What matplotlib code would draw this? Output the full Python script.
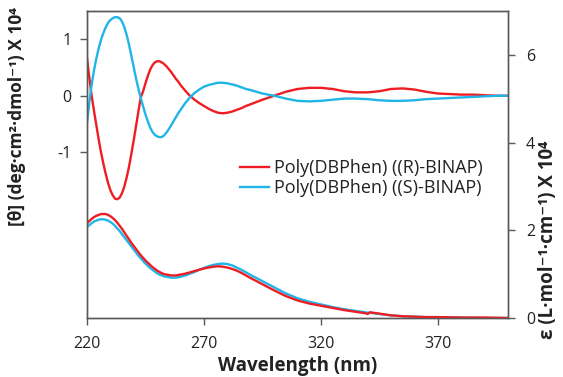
import matplotlib
matplotlib.use("Agg")
import matplotlib.pyplot as plt

# CD spectra (left axis, x 10^4)
wl_cd = list(range(220, 261)) + list(range(262, 291, 2)) + list(range(295, 401, 5))
cd_r = [0.67, 0.32, 0.0, -0.27, -0.52, -0.77, -1.0, -1.2, -1.38, -1.54, -1.67, -1.76,
        -1.82, -1.83, -1.8, -1.72, -1.6, -1.44, -1.25, -1.02, -0.78, -0.53, -0.27, -0.03,
        0.08, 0.22, 0.35, 0.46, 0.54, 0.59, 0.61, 0.61, 0.59, 0.56, 0.52, 0.47, 0.42,
        0.36, 0.3, 0.25, 0.19,
        0.09, 0.0, -0.07, -0.13, -0.18, -0.23, -0.27, -0.3, -0.31, -0.3, -0.28, -0.25,
        -0.22, -0.18, -0.15,
        -0.07, 0.0, 0.07, 0.12, 0.14, 0.14, 0.12, 0.08, 0.06, 0.06, 0.08, 0.12, 0.13,
        0.11, 0.07, 0.04, 0.03, 0.02, 0.02, 0.01, 0.0, 0.0]
cd_s = [-0.48, -0.12, 0.2, 0.45, 0.66, 0.84, 0.99, 1.11, 1.21, 1.29, 1.34, 1.37, 1.39,
        1.39, 1.37, 1.31, 1.21, 1.07, 0.9, 0.7, 0.5, 0.3, 0.12, -0.04, -0.19, -0.33,
        -0.45, -0.56, -0.64, -0.69, -0.72, -0.73, -0.73, -0.7, -0.65, -0.59, -0.52,
        -0.45, -0.38, -0.31, -0.25,
        -0.13, -0.03, 0.05, 0.11, 0.16, 0.19, 0.21, 0.23, 0.23, 0.22, 0.2, 0.18, 0.15,
        0.12, 0.1,
        0.04, 0.0, -0.05, -0.09, -0.1, -0.09, -0.07, -0.05, -0.05, -0.06, -0.08, -0.09,
        -0.09, -0.08, -0.06, -0.05, -0.04, -0.03, -0.02, -0.01, 0.0, 0.0]

# absorption spectra (right axis, x 10^4)
wl_uv = list(range(220, 261)) + list(range(262, 291, 2)) + [
    295, 300, 305, 310, 315, 320, 325, 330, 335, 339, 340, 341, 345, 350, 355, 360,
    365, 370, 380, 390, 400]
uv_r = [2.16, 2.21, 2.26, 2.3, 2.33, 2.35, 2.37, 2.37, 2.37, 2.35, 2.32, 2.28, 2.23,
        2.17, 2.1, 2.03, 1.95, 1.87, 1.79, 1.71, 1.64, 1.57, 1.5, 1.43, 1.37, 1.31, 1.26,
        1.21, 1.16, 1.12, 1.08, 1.05, 1.02, 1.0, 0.99, 0.98, 0.97, 0.97, 0.97, 0.98, 0.99,
        1.01, 1.04, 1.07, 1.1, 1.13, 1.15, 1.17, 1.18, 1.17, 1.15, 1.12, 1.08, 1.03, 0.97,
        0.91,
        0.77, 0.63, 0.5, 0.4, 0.33, 0.28, 0.23, 0.18, 0.14, 0.11, 0.09, 0.13, 0.1, 0.06,
        0.04, 0.03, 0.02, 0.02, 0.01, 0.01, 0.0]
uv_s = [2.07, 2.12, 2.16, 2.2, 2.22, 2.24, 2.25, 2.25, 2.24, 2.22, 2.19, 2.15, 2.1,
        2.04, 1.98, 1.91, 1.84, 1.77, 1.7, 1.63, 1.56, 1.49, 1.42, 1.36, 1.3, 1.24, 1.19,
        1.14, 1.1, 1.06, 1.02, 0.99, 0.97, 0.95, 0.94, 0.93, 0.92, 0.92, 0.92, 0.93, 0.94,
        0.97, 1.01, 1.05, 1.1, 1.14, 1.18, 1.21, 1.23, 1.24, 1.23, 1.2, 1.15, 1.1, 1.04,
        0.98,
        0.84, 0.7, 0.56, 0.45, 0.37, 0.31, 0.25, 0.2, 0.16, 0.13, 0.12, 0.12, 0.09, 0.06,
        0.04, 0.03, 0.02, 0.02, 0.01, 0.0, 0.0]

labels = ['Poly(DBPhen) ((R)-BINAP)', 'Poly(DBPhen) ((S)-BINAP)']
x_ticks = [220, 270, 320, 370]

red = '#ee1d23'
blue = '#1fb5e8'
grey = '#595959'
txt = '#222222'
plt.rcParams['font.family'] = ['Open Sans', 'DejaVu Sans']

fig = plt.figure(figsize=(5.63, 3.77), dpi=100)
ax = fig.add_axes([0.1545, 0.1565, 0.7478, 0.8145])
ax2 = ax.twinx()

l1, = ax.plot(wl_cd, cd_r, color=red, lw=1.7, label=labels[0])
l2, = ax.plot(wl_cd, cd_s, color=blue, lw=1.7, label=labels[1])
ax2.plot(wl_uv, uv_s, color=blue, lw=1.7)
ax2.plot(wl_uv, uv_r, color=red, lw=1.7)

ax.set_xlim(220, 400)
ax.set_ylim(-3.93, 1.5)
ax2.set_ylim(0, 7)
ax.set_xticks(x_ticks)
ax.set_yticks([-1, 0, 1])
ax.set_yticklabels(['-1', '0', '1'])
ax2.set_yticks([0, 2, 4, 6])

for a in (ax, ax2):
    for s in a.spines.values():
        s.set_color(grey)
        s.set_linewidth(1.0)
    a.tick_params(colors=grey, labelcolor=txt, labelsize=11.5, length=5, width=1)
ax.tick_params(axis='x', pad=8)
ax.tick_params(axis='y', pad=6)
ax2.tick_params(axis='y', pad=8)

ax.set_xlabel('Wavelength (nm)', fontsize=13.5, fontweight='bold', color=txt, labelpad=3)
ax.set_ylabel('[θ] (deg·cm²·dmol⁻¹) X 10⁴', fontsize=12.5, fontweight='bold', color=txt)
ax.yaxis.set_label_coords(-0.145, 0.655)
ax2.set_ylabel('ε (L·mol⁻¹·cm⁻¹) X 10⁴', fontsize=13.5, fontweight='bold', color=txt)
ax2.yaxis.set_label_coords(1.072, 0.254)

ax.legend(handles=[l1, l2], loc='center left', bbox_to_anchor=(0.325, 0.455),
          frameon=False, fontsize=13, handlelength=1.6, handletextpad=0.3,
          labelspacing=0.1, labelcolor=txt)

fig.savefig('out.png', dpi=100)
